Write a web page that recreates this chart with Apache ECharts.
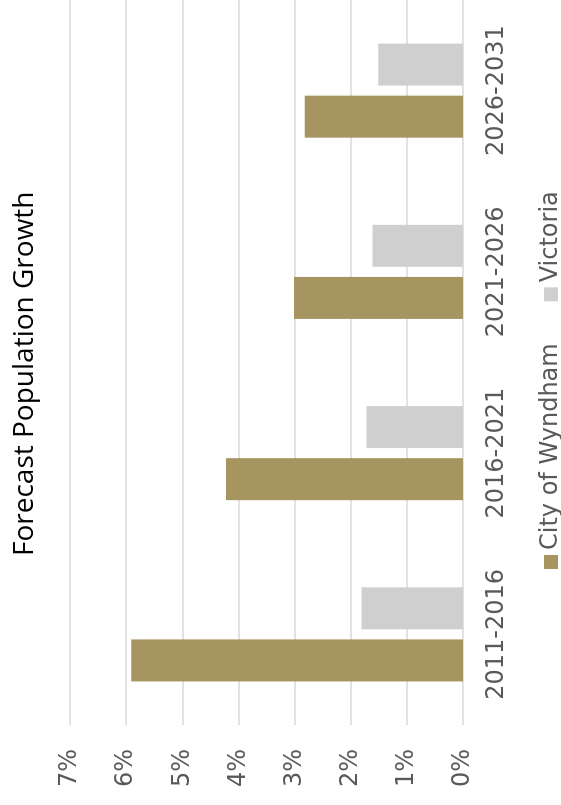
<!DOCTYPE html>
<html>
<head>
<meta charset="utf-8">
<script src="https://cdn.jsdelivr.net/npm/echarts@6/dist/echarts.min.js"></script>
<style>
html,body{margin:0;padding:0;width:561px;height:805px;overflow:hidden;background:#fff;}
#chart{position:absolute;left:0;top:0;width:805px;height:561px;transform-origin:0 0;transform:translate(0,805px) rotate(-90deg);}
</style>
</head>
<body>
<div id="chart"></div>
<script>
const categories = ['2011-2016', '2016-2021', '2021-2026', '2026-2031'];
const wyndham = [5.91, 4.22, 3.01, 2.82];
const victoria = [1.81, 1.72, 1.61, 1.51];
const valueTicks = [0, 1, 2, 3, 4, 5, 6, 7];

const chart = echarts.init(document.getElementById('chart'), null, {renderer: 'canvas'});
chart.setOption({
  animation: false,
  backgroundColor: '#ffffff',
  title: {
    text: 'Forecast Population Growth',
    left: 244,
    top: 6,
    textStyle: {fontFamily: 'Open Sans', fontSize: 28, fontWeight: 'normal', color: '#000000'}
  },
  legend: {
    data: ['City of Wyndham', 'Victoria'],
    left: 231,
    top: 534,
    icon: 'rect',
    itemWidth: 14,
    itemHeight: 14,
    itemGap: 42,
    textStyle: {fontFamily: 'DejaVu Sans', fontSize: 24, color: '#595959'}
  },
  grid: {left: 80, right: -2, top: 70, bottom: 98, containLabel: false},
  xAxis: {
    type: 'category',
    data: categories,
    axisLine: {show: false},
    axisTick: {show: false},
    axisLabel: {fontFamily: 'DejaVu Sans', fontSize: 24, color: '#595959', margin: 22}
  },
  yAxis: {
    type: 'value',
    min: valueTicks[0],
    max: valueTicks[valueTicks.length - 1],
    interval: 1,
    axisLine: {show: false},
    axisTick: {show: false},
    splitLine: {lineStyle: {color: '#d9d9d9', width: 1.5}},
    axisLabel: {fontFamily: 'DejaVu Sans', fontSize: 24, color: '#595959', margin: 24, formatter: '{value}%'}
  },
  series: [
    {name: 'City of Wyndham', type: 'bar', data: wyndham, barWidth: 42, barGap: '24%', itemStyle: {color: '#a69560'}},
    {name: 'Victoria', type: 'bar', data: victoria, barWidth: 42, itemStyle: {color: '#cfcfcf'}}
  ]
});
</script>
</body>
</html>
